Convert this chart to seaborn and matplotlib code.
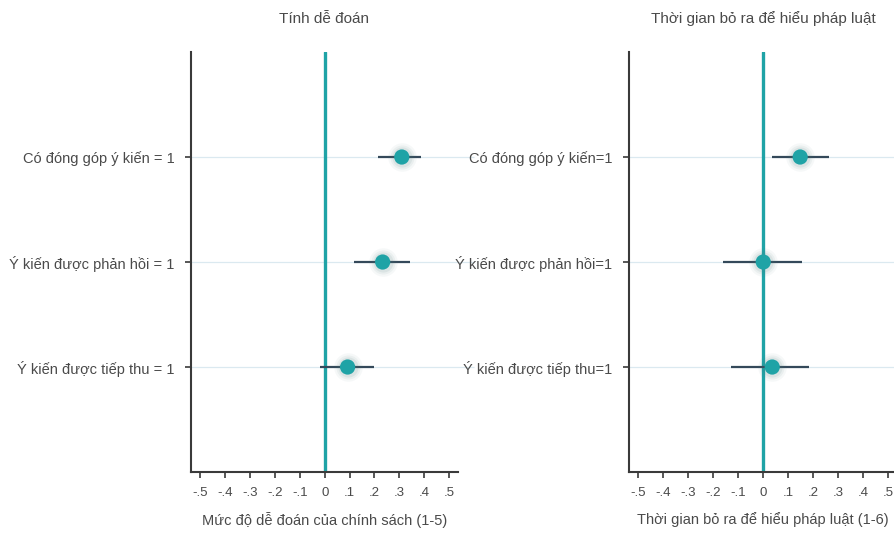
import numpy as np
import pandas as pd
import matplotlib.pyplot as plt
import seaborn as sns

# dữ liệu
rows_left = ['Có đóng góp ý kiến = 1', 'Ý kiến được phản hồi = 1', 'Ý kiến được tiếp thu = 1']
rows_right = ['Có đóng góp ý kiến=1', 'Ý kiến được phản hồi=1', 'Ý kiến được tiếp thu=1']
coef_left = [0.31, 0.233, 0.092]
lo_left = [0.213, 0.116, -0.02]
hi_left = [0.386, 0.345, 0.20]
coef_right = [0.148, 0.0, 0.036]
lo_right = [0.036, -0.16, -0.128]
hi_right = [0.264, 0.156, 0.184]
titles = ['Tính dễ đoán', 'Thời gian bỏ ra để hiểu pháp luật']
xlabels = ['Mức độ dễ đoán của chính sách (1-5)', 'Thời gian bỏ ra để hiểu pháp luật (1-6)']
xticks = [-0.5, -0.4, -0.3, -0.2, -0.1, 0, 0.1, 0.2, 0.3, 0.4, 0.5]
xticklabels = ['-.5', '-.4', '-.3', '-.2', '-.1', '0', '.1', '.2', '.3', '.4', '.5']

sns.set_style('ticks')
plt.rcParams['font.family'] = ['Liberation Sans', 'DejaVu Sans']

TEAL = '#1fa3a6'
TEXT = '#4a4a4a'
SPINE = '#3a3a3a'

fig = plt.figure(figsize=(8.95, 5.33), dpi=100)
ax_l = fig.add_axes([0.2134, 0.1144, 0.2983, 0.788])
ax_r = fig.add_axes([0.7028, 0.1144, 0.2994, 0.788])

panels = [
    (ax_l, rows_left, coef_left, lo_left, hi_left, 0.60),
    (ax_r, rows_right, coef_right, lo_right, hi_right, 0.60),
]

for i, (ax, rows, coef, lo, hi, line_end) in enumerate(panels):
    df = pd.DataFrame({'row': rows, 'coef': coef, 'lo': lo, 'hi': hi})
    df['y'] = np.arange(1, len(rows) + 1)

    # đường tham chiếu ngang
    ax.hlines(df['y'], -0.54, line_end, color='#dbe9f0', lw=0.9, zorder=0, clip_on=False)
    # đường 0
    ax.axvline(0, color=TEAL, lw=2.4, zorder=1)
    # khoảng tin cậy
    ax.hlines(df['y'], df['lo'], df['hi'], color='#34495a', lw=1.6, zorder=2)
    # quầng mờ quanh điểm
    for s, a in [(420, 0.05), (300, 0.07), (210, 0.10)]:
        ax.scatter(df['coef'], df['y'], s=s, color='#4f7f80', alpha=a, lw=0, zorder=3)
    sns.scatterplot(data=df, x='coef', y='y', ax=ax, s=120, color=TEAL,
                    edgecolor='none', zorder=4, legend=False)

    ax.set_xlim(-0.538, 0.536)
    ax.set_ylim(4, 0)
    ax.set_xticks(xticks)
    ax.set_xticklabels(xticklabels)
    ax.set_yticks(df['y'])
    ax.set_yticklabels(rows)
    ax.tick_params(axis='both', colors=SPINE, labelcolor=TEXT,
                   length=4, width=1.2, direction='out')
    ax.tick_params(axis='x', pad=7, labelsize=9.5)
    ax.tick_params(axis='y', pad=8, labelsize=10.5)
    ax.set_xlabel(xlabels[i], fontsize=10.5, color=TEXT, labelpad=9)
    ax.set_ylabel('')
    ax.set_title(titles[i], fontsize=11, color=TEXT, pad=21)
    sns.despine(ax=ax)
    for sp in ['left', 'bottom']:
        ax.spines[sp].set_color(SPINE)
        ax.spines[sp].set_linewidth(1.5)

fig.savefig('out.png', dpi=100)
